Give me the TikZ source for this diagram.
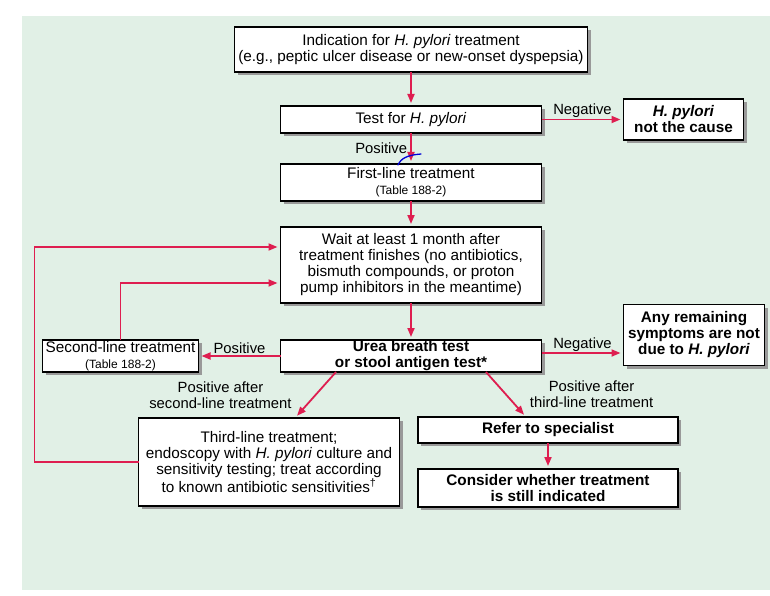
\documentclass[tikz,border=0pt]{standalone}
\usepackage{fontspec}
\setmainfont{Liberation Sans}
\usepackage{xcolor}
\usepackage{tikz}
\usetikzlibrary{arrows.meta, positioning, shadows}
\definecolor{bggreen}{RGB}{225,240,230}
\definecolor{hpred}{RGB}{222,30,80}

\begin{document}
\begin{tikzpicture}[
    x=1pt, y=-1pt,
    box/.style={draw, fill=white, line width=1.1pt, inner sep=0pt, outer sep=0pt, align=center,
                font=\fontsize{15.3pt}{16pt}\selectfont,
                drop shadow={shadow xshift=3pt, shadow yshift=-3pt, fill=black!40, opacity=1}},
    boldbox/.style={box, font=\fontsize{15.3pt}{16pt}\selectfont\bfseries},
    lbl/.style={inner sep=1pt, align=center, text=black, font=\fontsize{14.8pt}{16pt}\selectfont},
    arr/.style={-{Triangle[length=9pt, width=7pt]}, color=hpred, line width=1.8pt, shorten >=3pt},
]
\useasboundingbox (0,0) rectangle (770,596);
\fill[bggreen] (22,16) rectangle (770,590);

% main column
\node[box, minimum width=353pt, minimum height=45pt] (ind) at (411,49.5)
    {Indication for \textit{H. pylori} treatment\\(e.g., peptic ulcer disease or new-onset dyspepsia)};
\node[box, minimum width=261pt, minimum height=27pt, below=34pt of ind] (test)
    {Test for \textit{H. pylori}};
\node[box, minimum width=261pt, minimum height=37pt, below=31pt of test] (first)
    {First-line treatment\\{\fontsize{12pt}{13pt}\selectfont (Table 188-2)}};
\node[box, minimum width=261pt, minimum height=76pt, below=26pt of first] (wait)
    {Wait at least 1 month after\\treatment finishes (no antibiotics,\\bismuth compounds, or proton\\pump inhibitors in the meantime)};
\node[boldbox, minimum width=261pt, minimum height=32pt, below=37pt of wait] (urea)
    {Urea breath test\\or stool antigen test*};

% side boxes
\node[boldbox, minimum width=120pt, minimum height=41pt, right=82pt of test] (notcause)
    {\textit{H. pylori}\\not the cause};
\node[boldbox, minimum width=141pt, minimum height=61pt, right=82pt of urea, yshift=21pt] (remain)
    {Any remaining\\symptoms are not\\due to \textit{H. pylori}};
\node[box, minimum width=156pt, minimum height=32pt, left=82pt of urea] (second)
    {Second-line treatment\\{\fontsize{12pt}{13pt}\selectfont (Table 188-2)}};
\node[box, minimum width=261pt, minimum height=88pt, below=46pt of urea, xshift=-142pt] (third)
    {Third-line treatment;\\endoscopy with \textit{H. pylori} culture and\\sensitivity testing; treat according\\to known antibiotic sensitivities\textsuperscript{\dag}};
\node[boldbox, minimum width=260pt, minimum height=26pt, below=45pt of urea, xshift=137pt] (refer)
    {Refer to specialist};
\node[boldbox, minimum width=260pt, minimum height=38pt, below=26pt of refer] (consider)
    {Consider whether treatment\\is still indicated};

\draw[arr] (ind) -- (test);
\draw[arr] (test.east) -- node[lbl, above] {Negative} (test.east -| notcause.west);
\draw[arr] (test) -- node[lbl, left=2pt] {Positive} (first);
\draw[arr] (first) -- (wait);
\draw[arr] (wait) -- (urea);
\draw[arr] (urea) -- node[lbl, above] {Positive} (second);
\draw[arr] ([yshift=3pt]urea.east) -- node[lbl, above] {Negative} ([yshift=3pt]urea.east -| remain.west);
\draw[arr] (second.north) |- ([yshift=-18pt]wait.west);
\draw[arr] (third.west) -- ++(-104,0) |- ([yshift=18pt]wait.west);
\draw[arr] ([xshift=-75pt]urea.south) -- node[lbl, left=22pt] {Positive after\\second-line treatment} ([xshift=26pt]third.north);
\draw[arr] ([xshift=75pt]urea.south) -- node[lbl, right=22pt] {Positive after\\third-line treatment} ([xshift=-22pt]refer.north);
\draw[arr] (refer) -- (consider);

% hand mark
\draw[blue!85!black, line width=1.3pt, line cap=round] (398,165) .. controls (401,158) and (408,155) .. (421,154);
\end{tikzpicture}
\end{document}
